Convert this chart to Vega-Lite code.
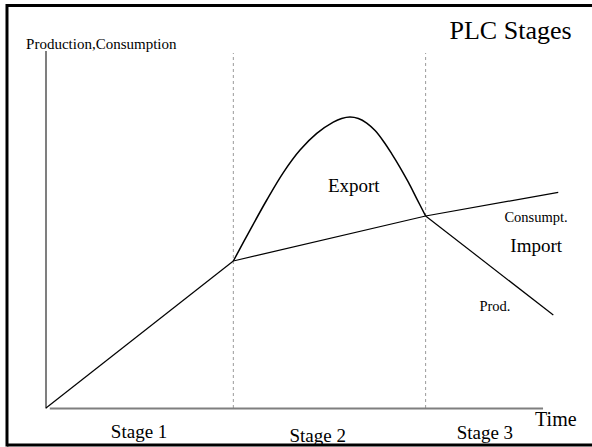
{
  "$schema": "https://vega.github.io/schema/vega-lite/v6.json",
  "autosize": {"type": "none"},
  "width": 592,
  "height": 447,
  "padding": 0,
  "background": "white",
  "view": {"stroke": null},
  "config": {"view": {"stroke": null, "strokeWidth": 0}},
  "datasets": {
    "frame": [
      {"edge": "left", "t": -2.053, "v": -9.625, "t2": -2.053, "v2": 101.0},
      {"edge": "top", "t": -2.053, "v": 100.625, "t2": 28.737, "v2": 100.625},
      {"edge": "bottom", "t": -2.053, "v": -9.25, "t2": 28.737, "v2": -9.25}
    ],
    "axes": [
      {"axis": "Production,Consumption", "t": 0, "v": -0.15, "t2": 0, "v2": 89.25},
      {"axis": "Time", "t": 0.2, "v": -0.15, "t2": 26.16, "v2": -0.15}
    ],
    "stages": [
      {"boundary": "Stage 1 / Stage 2", "t": 9.86},
      {"boundary": "Stage 2 / Stage 3", "t": 19.98}
    ],
    "lines": [
      {"line": "Stage 1 (production = consumption)", "t": 0, "v": 0},
      {"line": "Stage 1 (production = consumption)", "t": 9.86, "v": 36.75},
      {"line": "Consumption", "t": 9.86, "v": 36.75},
      {"line": "Consumption", "t": 19.98, "v": 48},
      {"line": "Consumption", "t": 26.96, "v": 53.9},
      {"line": "Production, stage 3", "t": 19.98, "v": 48},
      {"line": "Production, stage 3", "t": 26.7, "v": 23.25}
    ],
    "curve": [
      {"line": "Production, stage 2", "t": 9.86, "v": 36.75},
      {"line": "Production, stage 2", "t": 10.74, "v": 44.48},
      {"line": "Production, stage 2", "t": 11.62, "v": 52.0},
      {"line": "Production, stage 2", "t": 12.49, "v": 58.85},
      {"line": "Production, stage 2", "t": 13.37, "v": 64.48},
      {"line": "Production, stage 2", "t": 14.25, "v": 68.65},
      {"line": "Production, stage 2", "t": 15.12, "v": 71.45},
      {"line": "Production, stage 2", "t": 15.56, "v": 72.38},
      {"line": "Production, stage 2", "t": 16.0, "v": 72.75},
      {"line": "Production, stage 2", "t": 16.44, "v": 72.38},
      {"line": "Production, stage 2", "t": 16.88, "v": 71.23},
      {"line": "Production, stage 2", "t": 17.32, "v": 69.35},
      {"line": "Production, stage 2", "t": 17.75, "v": 66.75},
      {"line": "Production, stage 2", "t": 18.19, "v": 63.6},
      {"line": "Production, stage 2", "t": 18.63, "v": 60.18},
      {"line": "Production, stage 2", "t": 19.07, "v": 56.45},
      {"line": "Production, stage 2", "t": 19.51, "v": 52.35},
      {"line": "Production, stage 2", "t": 19.98, "v": 48.0}
    ],
    "labels": [
      {"role": "chart title", "text": "PLC Stages", "t": 24.45, "v": 92.2},
      {"role": "y title", "text": "Production,Consumption", "t": -1.05, "v": 89.7},
      {"role": "x title", "text": "Time", "t": 25.74, "v": -4.42},
      {"role": "stage", "text": "Stage 1", "t": 4.9, "v": -7.6},
      {"role": "stage", "text": "Stage 2", "t": 14.3, "v": -8.4},
      {"role": "stage", "text": "Stage 3", "t": 23.1, "v": -7.75},
      {"role": "region", "text": "Export", "t": 16.2, "v": 54.1},
      {"role": "region", "text": "Import", "t": 25.8, "v": 39.1},
      {"role": "series", "text": "Consumpt.", "t": 25.79, "v": 46.6},
      {"role": "series", "text": "Prod.", "t": 23.63, "v": 24.3}
    ]
  },
  "layer": [
    {
      "data": {"name": "frame"},
      "mark": {"type": "rule", "color": "black", "strokeWidth": 3},
      "encoding": {
        "x": {"field": "t", "type": "quantitative", "scale": {"domain": [-2.421, 28.737], "nice": false, "zero": false}, "axis": null},
        "x2": {"field": "t2"},
        "y": {"field": "v", "type": "quantitative", "scale": {"domain": [-9.75, 102], "nice": false, "zero": false}, "axis": null},
        "y2": {"field": "v2"}
      }
    },
    {
      "data": {"name": "stages"},
      "mark": {"type": "rule", "color": "#9a9a9a", "strokeWidth": 1, "strokeDash": [3, 3]},
      "encoding": {
        "x": {"field": "t", "type": "quantitative", "scale": {"domain": [-2.421, 28.737], "nice": false, "zero": false}, "axis": null},
        "y": {"datum": 0, "type": "quantitative", "scale": {"domain": [-9.75, 102], "nice": false, "zero": false}, "axis": null},
        "y2": {"datum": 88.75}
      }
    },
    {
      "data": {"name": "axes"},
      "mark": {"type": "rule", "color": "#7f7f7f", "strokeWidth": 2},
      "encoding": {
        "x": {"field": "t", "type": "quantitative", "scale": {"domain": [-2.421, 28.737], "nice": false, "zero": false}, "axis": null},
        "x2": {"field": "t2"},
        "y": {"field": "v", "type": "quantitative", "scale": {"domain": [-9.75, 102], "nice": false, "zero": false}, "axis": null},
        "y2": {"field": "v2"}
      }
    },
    {
      "data": {"name": "lines"},
      "mark": {"type": "line", "color": "black", "strokeWidth": 1.2, "interpolate": "linear"},
      "encoding": {
        "x": {"field": "t", "type": "quantitative", "scale": {"domain": [-2.421, 28.737], "nice": false, "zero": false}, "axis": null},
        "y": {"field": "v", "type": "quantitative", "scale": {"domain": [-9.75, 102], "nice": false, "zero": false}, "axis": null},
        "detail": {"field": "line", "type": "nominal"}
      }
    },
    {
      "data": {"name": "curve"},
      "mark": {"type": "line", "color": "black", "strokeWidth": 1.5, "interpolate": "catmull-rom"},
      "encoding": {
        "x": {"field": "t", "type": "quantitative", "scale": {"domain": [-2.421, 28.737], "nice": false, "zero": false}, "axis": null},
        "y": {"field": "v", "type": "quantitative", "scale": {"domain": [-9.75, 102], "nice": false, "zero": false}, "axis": null}
      }
    },
    {
      "data": {"name": "labels"},
      "transform": [{"filter": "datum.role === 'chart title'"}],
      "mark": {"type": "text", "font": "Liberation Serif", "fontSize": 26, "align": "center", "baseline": "alphabetic", "color": "black"},
      "encoding": {
        "x": {"field": "t", "type": "quantitative", "scale": {"domain": [-2.421, 28.737], "nice": false, "zero": false}, "axis": null},
        "y": {"field": "v", "type": "quantitative", "scale": {"domain": [-9.75, 102], "nice": false, "zero": false}, "axis": null},
        "text": {"field": "text"}
      }
    },
    {
      "data": {"name": "labels"},
      "transform": [{"filter": "datum.role === 'y title'"}],
      "mark": {"type": "text", "font": "Liberation Serif", "fontSize": 15, "align": "left", "baseline": "alphabetic", "color": "black"},
      "encoding": {
        "x": {"field": "t", "type": "quantitative", "scale": {"domain": [-2.421, 28.737], "nice": false, "zero": false}, "axis": null},
        "y": {"field": "v", "type": "quantitative", "scale": {"domain": [-9.75, 102], "nice": false, "zero": false}, "axis": null},
        "text": {"field": "text"}
      }
    },
    {
      "data": {"name": "labels"},
      "transform": [{"filter": "datum.role === 'x title'"}],
      "mark": {"type": "text", "font": "Liberation Serif", "fontSize": 20, "align": "left", "baseline": "alphabetic", "color": "black"},
      "encoding": {
        "x": {"field": "t", "type": "quantitative", "scale": {"domain": [-2.421, 28.737], "nice": false, "zero": false}, "axis": null},
        "y": {"field": "v", "type": "quantitative", "scale": {"domain": [-9.75, 102], "nice": false, "zero": false}, "axis": null},
        "text": {"field": "text"}
      }
    },
    {
      "data": {"name": "labels"},
      "transform": [{"filter": "datum.role === 'stage' || datum.role === 'region'"}],
      "mark": {"type": "text", "font": "Liberation Serif", "fontSize": 19, "align": "center", "baseline": "alphabetic", "color": "black"},
      "encoding": {
        "x": {"field": "t", "type": "quantitative", "scale": {"domain": [-2.421, 28.737], "nice": false, "zero": false}, "axis": null},
        "y": {"field": "v", "type": "quantitative", "scale": {"domain": [-9.75, 102], "nice": false, "zero": false}, "axis": null},
        "text": {"field": "text"}
      }
    },
    {
      "data": {"name": "labels"},
      "transform": [{"filter": "datum.role === 'series'"}],
      "mark": {"type": "text", "font": "Liberation Serif", "fontSize": 14.5, "align": "center", "baseline": "alphabetic", "color": "black"},
      "encoding": {
        "x": {"field": "t", "type": "quantitative", "scale": {"domain": [-2.421, 28.737], "nice": false, "zero": false}, "axis": null},
        "y": {"field": "v", "type": "quantitative", "scale": {"domain": [-9.75, 102], "nice": false, "zero": false}, "axis": null},
        "text": {"field": "text"}
      }
    }
  ]
}
